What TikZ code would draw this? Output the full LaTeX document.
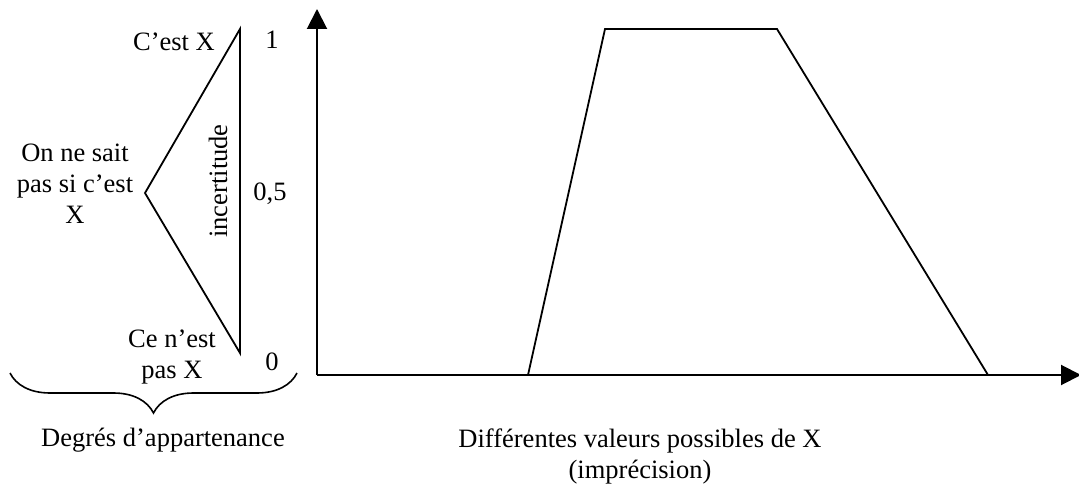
\documentclass[tikz,border=0pt]{standalone}
\usepackage{fontspec}
\setmainfont{Liberation Serif}
\usetikzlibrary{arrows.meta, decorations.pathreplacing}

\begin{document}
\begin{tikzpicture}[
    x=1pt, y=-1pt, % pixel-like units, y pointing down
    >={Triangle[length=20pt, width=20pt]}, % Set default arrow tip style
    axis/.style={line width=2pt},
    curve/.style={line width=1.8pt, line join=miter},
    lbl/.style={font=\fontsize{26.5}{31}\selectfont, inner sep=0pt, align=center}
]
\useasboundingbox (0,0) rectangle (1079,484);

% Axes
\coordinate (O) at (317,375);
\coordinate (ytip) at (317,9);
\coordinate (xtip) at (1081,375);
\draw[->, axis] (O) -- (ytip);
\draw[->, axis] (O) -- (xtip);

% Trapezoid (membership function)
\coordinate (t1) at (528,375);
\coordinate (t2) at (605,29);
\coordinate (t3) at (777,29);
\coordinate (t4) at (988,375);
\draw[curve] (t1) -- (t2) -- (t3) -- (t4);

% Triangle of membership degrees
\coordinate (top) at (240,29);
\coordinate (mid) at (145,193);
\coordinate (bot) at (240,353);
\draw[curve] (top) -- (mid) -- (bot) -- cycle;
\node[lbl, rotate=90] (incert) at (218,181) {incertitude};

% Labels of the degrees
\node[lbl, anchor=east] (cest) at (215,42) {C'est X};
\node[lbl] (onne) at (75,184) {On ne sait\\pas si c'est\\X};
\node[lbl] (cenest) at (172,357) {Ce n'est\\pas X};
\node[lbl] (un) at (272,40) {1};
\node[lbl] (demi) at (270,194) {0,5};
\node[lbl] (zero) at (272,362) {0};

% Brace and captions
\coordinate (bl) at (10,373);
\coordinate (br) at (297,373);
\draw[line width=1.6pt, decorate, decoration={brace, mirror, amplitude=40pt}] (bl) -- (br);
\node[lbl] (degres) at (163,440) {Degrés d'appartenance};
\node[lbl] (valeurs) at (640,456) {Différentes valeurs possibles de X\\(imprécision)};

\end{tikzpicture}
\end{document}
